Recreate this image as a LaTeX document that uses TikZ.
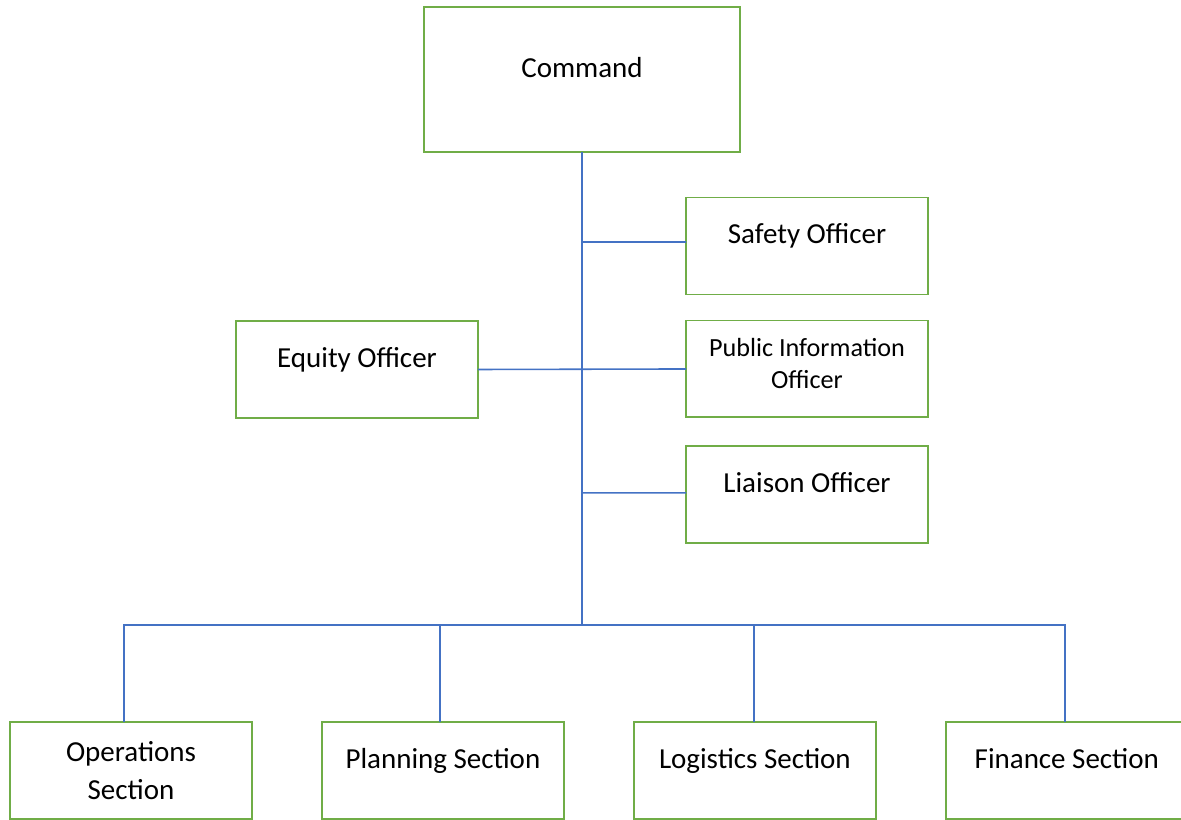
\documentclass[tikz,border=0pt]{standalone}
\usepackage{fontspec}
\setmainfont{Carlito}
\usetikzlibrary{positioning}

\definecolor{boxgreen}{HTML}{70AD47}
\definecolor{linkblue}{HTML}{4472C4}

\begin{document}
\begin{tikzpicture}[x=0.02cm, y=-0.02cm, align=center]
    \tikzset{
        unit/.style     =   { rectangle
                            , draw=boxgreen
                            , line width=1.1pt
                            , inner sep=0pt
                            , outer sep=0pt
                            , text centered
                            , minimum width=4.84cm
                            , minimum height=1.94cm
                            , font=\fontsize{16.5}{21.5}\selectfont
        }
        , oneline/.style =  { text height=10pt
                            , text depth=12.3pt
        }
        , head/.style   =   { unit
                            , oneline
                            , minimum width=6.32cm
                            , minimum height=2.9cm
        }
        , link/.style   =   { draw=linkblue
                            , line width=0.9pt
        }
    }
    \useasboundingbox (0,0) rectangle (1181,820);

    % command and staff
    \node(cmd)[head]                          at (582,79.5) {Command};
    \node(saf)[unit, oneline]                 at (807,246)  {Safety Officer};
    \node(pio)[unit, below=0.52cm of saf, text depth=6pt,
               font=\fontsize{14.9}{18.1}\selectfont]       {Public Information\\Officer};
    \node(lia)[unit, oneline, below=0.58cm of pio]          {Liaison Officer};
    \node(eq)[unit, oneline]                  at (357,369.5) {Equity Officer};

    % sections
    \node(ops)[unit]                          at (131,770.5) {Operations\\Section};
    \node(pla)[unit, oneline, right=1.4cm of ops]           {Planning Section};
    \node(log)[unit, oneline, right=1.4cm of pla]           {Logistics Section};
    \node(fin)[unit, oneline, right=1.4cm of log]           {Finance Section};

    \coordinate(bus) at (582,625);

    \draw[link] (cmd.south) -- (bus);
    \draw[link] (cmd.south |- saf.west) ++(0,-4) -- ([yshift=0.08cm]saf.west);
    \draw[link] (eq.east) -- (pio.west);
    \draw[link] (cmd.south |- lia.west) ++(0,-2) -- ([yshift=0.04cm]lia.west);
    \draw[link] ([xshift=-0.14cm]ops.north) |- (bus) -| ([xshift=-0.04cm]fin.north);
    \draw[link] ([xshift=-0.06cm]pla.north) -- ([xshift=-0.06cm]pla.north |- bus);
    \draw[link] ([xshift=-0.02cm]log.north) -- ([xshift=-0.02cm]log.north |- bus);
\end{tikzpicture}
\end{document}
